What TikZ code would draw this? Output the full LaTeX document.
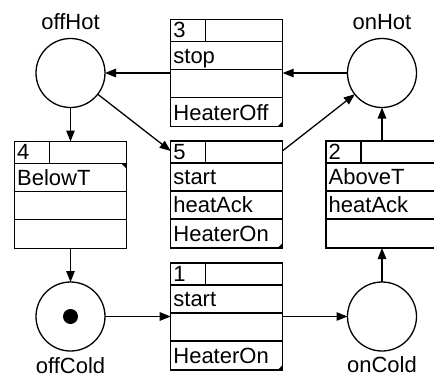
\documentclass[tikz,border=0pt]{standalone}
\usepackage{fontspec}
\setmainfont{Liberation Sans}
\usetikzlibrary{arrows.meta,calc}
\tikzset{
  place/.style={draw, circle, line width=1.3pt, minimum size=69pt, inner sep=0pt, outer sep=0pt},
  tbox/.style={draw, rectangle, line width=1.3pt, minimum width=112pt, minimum height=107pt, inner sep=0pt, outer sep=0pt},
  arc/.style={line width=1.3pt, -{Triangle[length=11pt,width=8.5pt]}},
  txt/.style={anchor=base west, inner sep=0pt, font=\fontsize{22pt}{24pt}\selectfont},
  plabel/.style={anchor=base, inner sep=0pt, font=\fontsize{22pt}{24pt}\selectfont},
  tok/.style={circle, fill, minimum size=15pt, inner sep=0pt},
  rowline/.style={line width=1.3pt},
}
\newcommand\ptrans[6]{%
  \node[tbox] (#1) at (#2) {};
  \draw[rowline] ($(#1.north west)+(0,22)$) -- ($(#1.north east)+(0,22)$);
  \draw[rowline] ($(#1.north west)+(0,50)$) -- ($(#1.north east)+(0,50)$);
  \draw[rowline] ($(#1.north west)+(0,78)$) -- ($(#1.north east)+(0,78)$);
  \draw[rowline] ($(#1.north west)+(35,0)$) -- ($(#1.north west)+(35,22)$);
  \node[txt] (#1-n) at ($(#1.north west)+(2.5,18)$) {#3};
  \node[txt] (#1-a) at ($(#1.north west)+(2.5,43.5)$) {#4};
  \node[txt] (#1-b) at ($(#1.north west)+(2.5,71.5)$) {#5};
  \node[txt] (#1-c) at ($(#1.north west)+(2.5,100.5)$) {#6};
}
\begin{document}
\begin{tikzpicture}[x=1pt,y=-1pt]
\useasboundingbox (0,0) rectangle (434,380);
\clip (0,0) rectangle (434,380);

% places
\node[place] (offHot) at (70.5,73) {};
\node[place] (onHot) at (382,73) {};
\node[place] (offCold) at (70.5,316.5) {};
\node[place] (onCold) at (382,316.5) {};
\node[tok] (token) at (offCold) {};

\node[plabel] (offHotL) at (70.5,30) {offHot};
\node[plabel] (onHotL) at (382,30) {onHot};
\node[plabel] (offColdL) at (70.5,373) {offCold};
\node[plabel] (onColdL) at (382,372) {onCold};

% transitions
\ptrans{t3}{226.7,73}{3}{stop}{}{HeaterOff}
\ptrans{t5}{226.7,194.5}{5}{start}{heatAck}{HeaterOn}
\ptrans{t4}{70.5,195}{4}{BelowT}{}{}
\ptrans{t2}{382,194.5}{2}{AboveT}{heatAck}{}
\ptrans{t1}{226.7,316.5}{1}{start}{}{HeaterOn}

% corner markers
\fill (t3.south east) -- ++(-5,0) -- ++(5,-5) -- cycle;
\fill (t5.south east) -- ++(-5,0) -- ++(5,-5) -- cycle;
\fill (t1.south east) -- ++(-5,0) -- ++(5,-5) -- cycle;
\fill ($(t4.north east)+(0,22)$) -- ++(-5,0) -- ++(5,5) -- cycle;

% arcs
\draw[arc] (onHot) -- (t3);
\draw[arc] (t3) -- (offHot);
\draw[arc] (offHot) -- (t5);
\draw[arc] (t5) -- (onHot);
\draw[arc] (offHot) -- (t4);
\draw[arc] (t4) -- (offCold);
\draw[arc] (offCold) -- (t1);
\draw[arc] (t1) -- (onCold);
\draw[arc] (onCold) -- (t2);
\draw[arc] (t2) -- (onHot);
\end{tikzpicture}
\end{document}
